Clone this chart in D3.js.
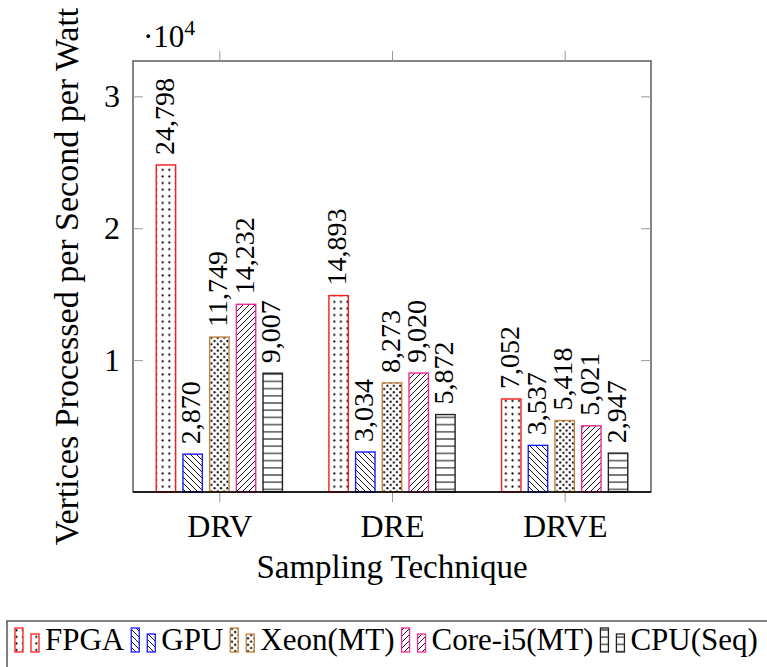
<!DOCTYPE html>
<html>
<head>
<meta charset="utf-8">
<script src="https://cdn.jsdelivr.net/npm/d3@7"></script>
<style>
  body { margin: 0; background: #fff; }
</style>
</head>
<body>
<div id="chart"></div>
<script>
// data
var techniques = ["DRV", "DRE", "DRVE"];
var seriesNames = ["FPGA", "GPU", "Xeon(MT)", "Core-i5(MT)", "CPU(Seq)"];
var fpga = [24798, 14893, 7052];
var gpu = [2870, 3034, 3537];
var xeon = [11749, 8273, 5418];
var core = [14232, 9020, 5021];
var cpu = [9007, 5872, 2947];
var yTickValues = [10000, 20000, 30000];
var yTickLabels = ["1", "2", "3"];

var seriesValues = [fpga, gpu, xeon, core, cpu];
var colors = ["#ff1a1a", "#1a1aff", "#bf8040", "#ee2a98", "#222222"];
var patternIds = ["pDots", "pNW", "pXDots", "pNE", "pHoriz"];
var FONT = "'Liberation Serif', 'Times New Roman', serif";

var W = 767, H = 667;
var margin = { top: 61, right: 116, bottom: 175, left: 133 };
var width = W - margin.left - margin.right,   // 518
    height = H - margin.top - margin.bottom;  // 431

var svg = d3.select("#chart").append("svg")
    .attr("width", W)
    .attr("height", H)
    .style("font-family", FONT);

// patterns
var defs = svg.append("defs");
var p;
p = defs.append("pattern").attr("id", "pDots").attr("patternUnits", "userSpaceOnUse")
    .attr("width", 6.6).attr("height", 6.6);
p.append("circle").attr("cx", 3.3).attr("cy", 3.3).attr("r", 1.1).attr("fill", "#000");

p = defs.append("pattern").attr("id", "pXDots").attr("patternUnits", "userSpaceOnUse")
    .attr("width", 6.4).attr("height", 6.4);
p.append("circle").attr("cx", 1.6).attr("cy", 1.6).attr("r", 1.1).attr("fill", "#000");
p.append("circle").attr("cx", 4.8).attr("cy", 4.8).attr("r", 1.1).attr("fill", "#000");

p = defs.append("pattern").attr("id", "pNW").attr("patternUnits", "userSpaceOnUse")
    .attr("width", 6).attr("height", 6);
p.append("path").attr("d", "M-1,-1 L7,7 M-1,5 L1,7 M5,-1 L7,1")
    .attr("stroke", "#000").attr("stroke-width", 0.9);

p = defs.append("pattern").attr("id", "pNE").attr("patternUnits", "userSpaceOnUse")
    .attr("width", 6).attr("height", 6);
p.append("path").attr("d", "M-1,7 L7,-1 M-1,1 L1,-1 M5,7 L7,5")
    .attr("stroke", "#000").attr("stroke-width", 0.9);

p = defs.append("pattern").attr("id", "pHoriz").attr("patternUnits", "userSpaceOnUse")
    .attr("width", 8).attr("height", 7.2);
p.append("path").attr("d", "M0,3.6 L8,3.6")
    .attr("stroke", "#000").attr("stroke-width", 1);

var g = svg.append("g")
    .attr("transform", "translate(" + margin.left + "," + margin.top + ")");

// scales
var x = d3.scalePoint()
    .domain(techniques)
    .range([0, width])
    .padding(0.5);

var xInner = d3.scaleBand()
    .domain(seriesNames)
    .range([-63.1, 63.1])
    .paddingInner(0.273);

var y = d3.scaleLinear()
    .domain([0, 32680])
    .range([height, 0]);

// frame
g.append("rect")
    .attr("width", width)
    .attr("height", height)
    .attr("fill", "none")
    .attr("stroke", "#666")
    .attr("stroke-width", 1.6);

// axes (ticks inside for y, outside for x)
var yAxisL = g.append("g")
    .call(d3.axisLeft(y).tickValues(yTickValues).tickSize(-10).tickPadding(13)
        .tickFormat(function (d, i) { return yTickLabels[i]; }));
var yAxisR = g.append("g")
    .attr("transform", "translate(" + width + ",0)")
    .call(d3.axisRight(y).tickValues(yTickValues).tickSize(-10).tickFormat(""));
var xAxisB = g.append("g")
    .attr("transform", "translate(0," + height + ")")
    .call(d3.axisBottom(x).tickSize(10));
var xAxisT = g.append("g")
    .call(d3.axisTop(x).tickSize(10).tickFormat(""));

[yAxisL, yAxisR, xAxisB, xAxisT].forEach(function (a) {
    a.attr("font-family", null).style("font-family", FONT);
    a.select(".domain").remove();
    a.selectAll(".tick line").attr("stroke", "#999").attr("stroke-width", 1);
});
yAxisL.selectAll("text")
    .attr("font-size", 32)
    .style("font-family", FONT)
    .attr("fill", "#000");
xAxisB.selectAll("text")
    .attr("font-size", 32)
    .style("font-family", FONT)
    .attr("fill", "#000")
    .attr("y", 45)
    .attr("dy", 0);

// bars
seriesNames.forEach(function (name, si) {
    var vals = seriesValues[si];
    var sg = g.append("g");
    sg.selectAll("rect")
        .data(techniques)
        .enter()
        .append("rect")
        .attr("x", function (d) { return x(d) + xInner(name); })
        .attr("y", function (d, i) { return y(vals[i]); })
        .attr("width", xInner.bandwidth())
        .attr("height", function (d, i) { return y(0) - y(vals[i]); })
        .attr("fill", "url(#" + patternIds[si] + ")")
        .attr("stroke", colors[si])
        .attr("stroke-width", 1.4);

    sg.selectAll("text")
        .data(techniques)
        .enter()
        .append("text")
        .attr("transform", function (d, i) {
            var cx = x(d) + xInner(name) + xInner.bandwidth() / 2;
            return "translate(" + cx + "," + (y(vals[i]) - 10) + ") rotate(-90)";
        })
        .attr("dy", "0.27em")
        .attr("text-anchor", "start")
        .attr("font-size", 28)
        .style("font-family", FONT)
        .attr("fill", "#000")
        .text(function (d, i) { return d3.format(",")(vals[i]); });
});

// baseline
g.append("line")
    .attr("x1", 0).attr("x2", width)
    .attr("y1", y(0)).attr("y2", y(0))
    .attr("stroke", "#000")
    .attr("stroke-width", 1.4);

// scale note
var note = g.append("text")
    .attr("x", 10)
    .attr("y", -14)
    .attr("font-size", 31)
    .style("font-family", FONT)
    .attr("fill", "#000");
note.append("tspan").text("\u00b710");
note.append("tspan").attr("font-size", 22).attr("dy", -12).text("4");

// axis titles
g.append("text")
    .attr("x", width / 2)
    .attr("y", height + 86)
    .attr("text-anchor", "middle")
    .attr("font-size", 33)
    .style("font-family", FONT)
    .attr("fill", "#000")
    .text("Sampling Technique");

g.append("text")
    .attr("transform", "translate(" + (78 - margin.left) + "," + (height / 2) + ") rotate(-90)")
    .attr("text-anchor", "middle")
    .attr("font-size", 34)
    .style("font-family", FONT)
    .attr("fill", "#000")
    .text("Vertices Processed per Second per Watt");

// legend
var legend = svg.append("g");
legend.append("rect")
    .attr("x", 7).attr("y", 621)
    .attr("width", 800).attr("height", 80)
    .attr("fill", "#fff")
    .attr("stroke", "#555")
    .attr("stroke-width", 1.5);

var cursor = 15;
var legBase = 652;
seriesNames.forEach(function (name, si) {
    var e = legend.append("g");
    e.append("rect")
        .attr("x", cursor).attr("y", legBase - 24)
        .attr("width", 8).attr("height", 24)
        .attr("fill", "url(#" + patternIds[si] + ")")
        .attr("stroke", colors[si]).attr("stroke-width", 1.3);
    e.append("rect")
        .attr("x", cursor + 16).attr("y", legBase - 18)
        .attr("width", 8).attr("height", 18)
        .attr("fill", "url(#" + patternIds[si] + ")")
        .attr("stroke", colors[si]).attr("stroke-width", 1.3);
    var t = e.append("text")
        .attr("x", cursor + 30)
        .attr("y", 650)
        .attr("font-size", 31)
        .style("font-family", FONT)
        .attr("fill", "#000")
        .text(name);
    cursor = cursor + 30 + t.node().getComputedTextLength() + 7;
});
</script>
</body>
</html>
